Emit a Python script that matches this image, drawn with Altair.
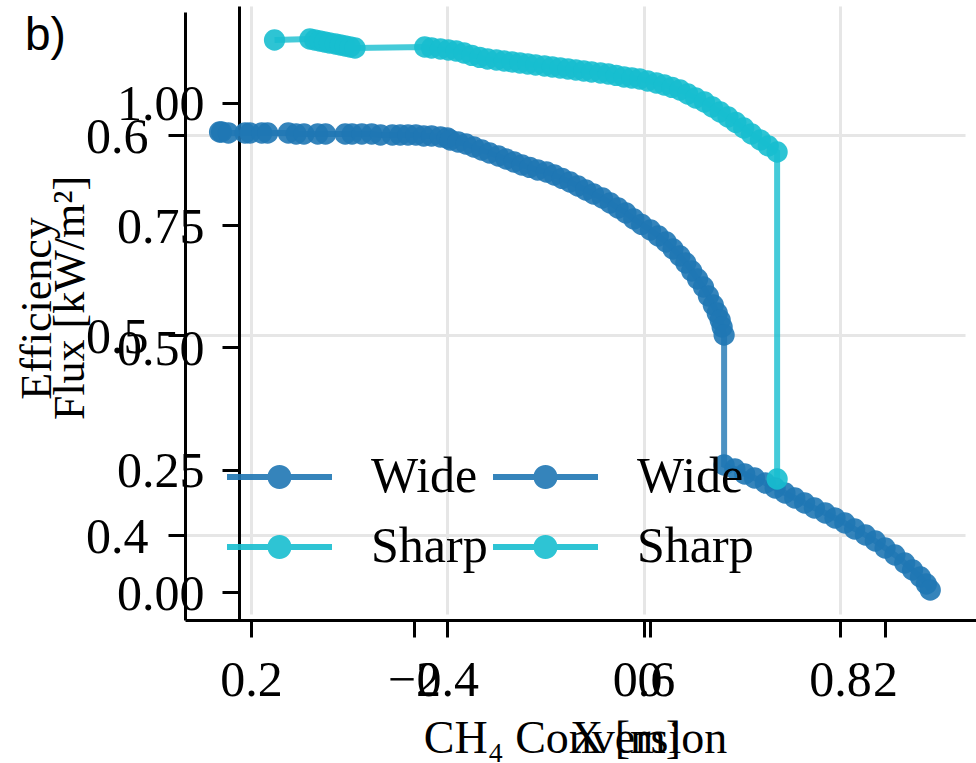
import altair as alt
import pandas as pd

# ---------------- data ----------------
series_names = ["Wide", "Sharp"]
series_colors = ["#1f77b4", "#17becf"]

wide_conv = [0.168, 0.170, 0.177, 0.194, 0.199, 0.211, 0.217, 0.238, 0.246, 0.254,
             0.268, 0.276, 0.296, 0.303, 0.313, 0.323, 0.332, 0.344, 0.352, 0.360,
             0.368, 0.376, 0.384, 0.393, 0.400,
             0.403, 0.411, 0.419, 0.427, 0.435, 0.443, 0.452, 0.460, 0.468, 0.476,
             0.484, 0.492, 0.501, 0.509, 0.517, 0.525, 0.533, 0.541, 0.549, 0.558,
             0.566, 0.574, 0.582, 0.590, 0.598, 0.607, 0.615, 0.623, 0.630, 0.637,
             0.643, 0.649, 0.655, 0.661, 0.666, 0.671, 0.675, 0.678, 0.680, 0.682,
             0.682, 0.693, 0.703, 0.713, 0.724, 0.734, 0.744, 0.754, 0.764, 0.774,
             0.785, 0.795, 0.805, 0.815, 0.826, 0.836, 0.846, 0.856, 0.866, 0.874,
             0.882, 0.888, 0.892]
wide_eff = [0.6015, 0.6015, 0.601, 0.601, 0.601, 0.601, 0.601, 0.601, 0.6005, 0.6005,
            0.6005, 0.6005, 0.6005, 0.6005, 0.6005, 0.6005, 0.600, 0.600, 0.600, 0.600,
            0.600, 0.5995, 0.5995, 0.599, 0.5985,
            0.5975, 0.5965, 0.5955, 0.594, 0.5925, 0.591, 0.5895, 0.588, 0.5865, 0.585,
            0.5838, 0.5825, 0.5815, 0.580, 0.5783, 0.5765, 0.5745, 0.5725, 0.5705, 0.5685,
            0.566, 0.5635, 0.561, 0.558, 0.5553, 0.5525, 0.5495, 0.5465, 0.543, 0.5395,
            0.536, 0.532, 0.528, 0.524, 0.5195, 0.515, 0.511, 0.5075, 0.504, 0.500,
            0.435, 0.433, 0.4305, 0.4285, 0.426, 0.4235, 0.421, 0.4185, 0.416, 0.4135,
            0.411, 0.4085, 0.406, 0.403, 0.400, 0.397, 0.3935, 0.390, 0.386, 0.3825,
            0.379, 0.3755, 0.3725]

sharp_conv = [0.224, 0.260, 0.265, 0.270, 0.275, 0.280, 0.286, 0.291, 0.296, 0.301,
              0.306,
              0.377, 0.384, 0.393, 0.401, 0.409, 0.417, 0.425, 0.433, 0.441, 0.450,
              0.458, 0.466, 0.474, 0.482, 0.490, 0.499, 0.507, 0.515, 0.523, 0.531,
              0.539, 0.547, 0.556, 0.564, 0.572, 0.580, 0.588, 0.596, 0.604, 0.613,
              0.621, 0.629, 0.637, 0.645, 0.653, 0.662, 0.670, 0.678, 0.686, 0.694,
              0.702, 0.710, 0.719, 0.727, 0.736,
              0.736]
sharp_eff = [0.6475, 0.648, 0.6475, 0.647, 0.6465, 0.646, 0.6455, 0.645, 0.6445, 0.644,
             0.6435,
             0.644, 0.6435, 0.643, 0.6425, 0.642, 0.641, 0.6398, 0.6388, 0.638, 0.6375,
             0.637, 0.6365, 0.636, 0.6355, 0.635, 0.6345, 0.634, 0.6335, 0.633, 0.6325,
             0.632, 0.6315, 0.631, 0.6305, 0.6298, 0.629, 0.6285, 0.628, 0.627, 0.626,
             0.625, 0.6238, 0.6225, 0.6205, 0.6185, 0.6165, 0.614, 0.6115, 0.609, 0.6063,
             0.6035, 0.6005, 0.5975, 0.5945, 0.5915,
             0.428]

conv_ticks = [0.2, 0.4, 0.6, 0.8]
eff_ticks = [0.4, 0.5, 0.6]
pos_ticks = [-2, 0, 2]
flux_ticks = [0.0, 0.25, 0.5, 0.75, 1.0]
panel_label = ["b)"]

rows = []
for name, cs, es in [("Wide", wide_conv, wide_eff), ("Sharp", sharp_conv, sharp_eff)]:
    for i, (c, e) in enumerate(zip(cs, es)):
        rows.append({"series": name, "conv": c, "eff": e, "idx": i})
df = pd.DataFrame(rows)
label_df = pd.DataFrame({"label": panel_label})

# ---------------- styling ----------------
FONT = "Liberation Serif"
FS = 50

axis_common = dict(
    domainColor="black", domainWidth=3, tickColor="black", tickWidth=3, tickSize=17,
    labelFont=FONT, labelFontSize=FS, labelColor="black",
    titleFont=FONT, titleColor="black", titleFontWeight="normal",
    labelOverlap=False, labelFlush=False,
)

legend_path = ("M-1,-0.057L1,-0.057L1,0.057L-1,0.057Z "
               "M0.229,0A0.229,0.229,0,1,1,-0.229,0A0.229,0.229,0,1,1,0.229,0Z")


def make_legend(lx):
    return alt.Legend(
        title=None, orient="none", legendX=lx, legendY=436, padding=0,
        symbolType=legend_path, symbolSize=11025, symbolStrokeWidth=0, symbolOpacity=0.9,
        labelFont=FONT, labelFontSize=FS, labelColor="black", labelOffset=39,
        clipHeight=70, rowPadding=0, labelLimit=400,
    )


def series_scale():
    return alt.Scale(domain=series_names, range=series_colors)


x_a = alt.X(
    "conv:Q",
    scale=alt.Scale(domain=[0.1328, 0.9274], range=[0, 780], nice=False, zero=False),
    axis=alt.Axis(title="CH₄ Conversion", values=conv_ticks, format=".1f", grid=True,
                  gridColor="#e6e6e6", gridWidth=3, labelPadding=18, titleFontSize=46,
                  titleY=132, titleBaseline="alphabetic", **axis_common),
)
y_a = alt.Y(
    "eff:Q",
    scale=alt.Scale(domain=[0.3575, 0.6615], range=[614, 6], nice=False, zero=False),
    axis=alt.Axis(title="Efficiency", values=eff_ticks, format=".1f", grid=True,
                  gridColor="#e6e6e6", gridWidth=3, labelPadding=20, labelOffset=2,
                  titleFontSize=44, titleX=-135, titleY=302, titleAngle=270,
                  titleAlign="center", titleBaseline="alphabetic", **axis_common),
)

lines = alt.Chart(df).mark_line(strokeWidth=6, opacity=0.8).encode(
    x=x_a, y=y_a,
    stroke=alt.Stroke("series:N", scale=series_scale(), legend=None),
    order=alt.Order("idx:Q"),
)
points = alt.Chart(df).mark_circle(size=452, opacity=0.9).encode(
    x=x_a, y=y_a,
    color=alt.Color("series:N", scale=series_scale(), legend=make_legend(42)),
)
label = alt.Chart(label_df).mark_text(
    align="left", baseline="alphabetic", font="Liberation Sans", fontSize=46, color="black"
).encode(x=alt.value(-160), y=alt.value(44), text="label:N")

layer_a = alt.layer(lines, points, label)

x_b = alt.X(
    "conv:Q",
    scale=alt.Scale(domain=[-3.485, 3.069], range=[54, 826], nice=False, zero=False),
    axis=alt.Axis(title="X [m]", orient="bottom", values=pos_ticks, format="d", grid=False,
                  labelPadding=18, titleFontSize=46, titleY=132, titleBaseline="alphabetic",
                  labelExpr="datum.value < 0 ? '\u2212' + abs(datum.value) : datum.label",
                  **axis_common),
)
y_b = alt.Y(
    "eff:Q",
    scale=alt.Scale(domain=[-0.057, 1.198], range=[614, 0], nice=False, zero=False),
    axis=alt.Axis(title="Flux [kW/m²]", orient="left", offset=-54, values=flux_ticks,
                  format=".2f", grid=False, labelPadding=18, labelOffset=2,
                  titleFontSize=44, titleX=-156, titleY=291.5, titleAngle=270,
                  titleAlign="center", titleBaseline="alphabetic", **axis_common),
)
layer_b = alt.Chart(df).mark_circle(opacity=0).encode(
    x=x_b, y=y_b,
    color=alt.Color("series:N", scale=series_scale(), legend=make_legend(308)),
)

chart = alt.layer(layer_a, layer_b).resolve_scale(
    x="independent", y="independent", color="independent"
).properties(
    width=790, height=614,
    autosize=alt.AutoSizeParams(type="none"),
    padding={"left": 185, "top": 6, "right": 1, "bottom": 143},
).configure_view(stroke=None)

chart.save("out.html", embed_options={"renderer": "svg", "actions": False})
